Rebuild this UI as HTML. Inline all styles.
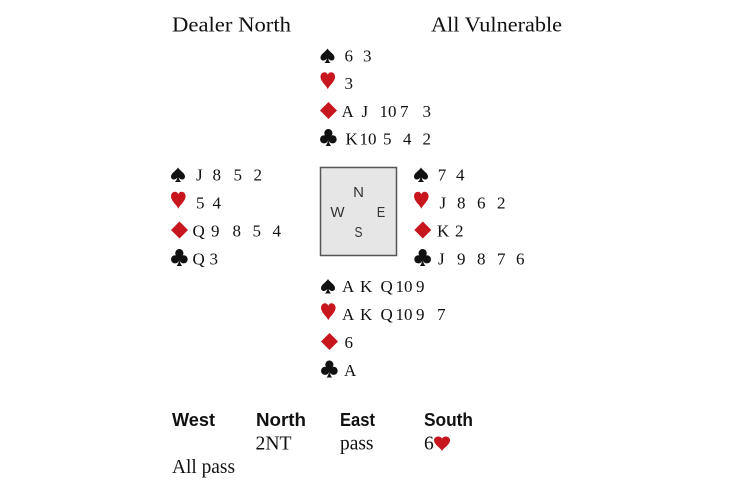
<!DOCTYPE html>
<html>
<head>
<meta charset="utf-8">
<style>
  html, body { margin:0; padding:0; background:#ffffff; }
  body { width:730px; height:486px; overflow:hidden; }
  svg { display:block; }
  .s { font-family:"Liberation Serif", "Times New Roman", serif; font-size:17px; fill:#111; }
  .h { font-family:"Liberation Serif", "Times New Roman", serif; font-size:21px; fill:#111; }
  .b { font-family:"Liberation Sans", Arial, sans-serif; font-size:18.5px; font-weight:bold; fill:#111; }
  .a { font-family:"Liberation Serif", "Times New Roman", serif; font-size:19.5px; fill:#111; }
  .c { font-family:"Liberation Sans", Arial, sans-serif; font-size:15px; fill:#333; text-anchor:middle; }
  .blk { fill:#111; }
  .red { fill:#c8161e; }
</style>
</head>
<body>
<svg width="730" height="486" viewBox="0 0 730 486" xmlns="http://www.w3.org/2000/svg">
  <rect x="0" y="0" width="730" height="486" fill="#ffffff"/>

  <!-- Headings -->
  <text class="h" x="172" y="31.5" textLength="119" lengthAdjust="spacingAndGlyphs">Dealer North</text>
  <text class="h" x="431" y="31.5" textLength="131" lengthAdjust="spacingAndGlyphs">All Vulnerable</text>

  <!-- ============ NORTH ============ -->
  <path class="blk" transform="translate(320.5,48.5)" d="M7,0 C8.5,3 14,5.5 14,9 C14,11 12.6,12 11.2,12 C9.8,12 8.6,11.2 7.8,10 C7.9,12 8.8,13.5 10.2,14.5 L3.8,14.5 C5.2,13.5 6.1,12 6.2,10 C5.4,11.2 4.2,12 2.8,12 C1.4,12 0,11 0,9 C0,5.5 5.5,3 7,0 Z"/>
  <text class="s" x="344.5" y="61.5">6</text>
  <text class="s" x="363" y="61.5">3</text>
  <path class="red" transform="translate(320.5,72.2)" d="M7.3,17 C6,13.5 0,9.5 0,4.6 C0,1.8 1.9,0 4,0 C5.6,0 6.8,1 7.3,2.6 C7.8,1 9,0 10.6,0 C12.7,0 14.6,1.8 14.6,4.6 C14.6,9.5 8.6,13.5 7.3,17 Z"/>
  <text class="s" x="344.5" y="89">3</text>
  <path class="red" transform="translate(320,102)" d="M8.5,0 L17,8.5 L8.5,17 L0,8.5 Z"/>
  <text class="s" x="341.5" y="117">A</text>
  <text class="s" x="361.5" y="117">J</text>
  <text class="s" x="379.5" y="117">10</text>
  <text class="s" x="400" y="117">7</text>
  <text class="s" x="422.5" y="117">3</text>
  <g class="blk" transform="translate(320,129)">
    <circle cx="8.35" cy="4.1" r="4.1"/>
    <circle cx="4.1" cy="10.3" r="4.1"/>
    <circle cx="12.6" cy="10.3" r="4.1"/>
    <circle cx="8.35" cy="8.8" r="2.6"/>
    <path d="M8.35,8.5 C8.2,12.5 7.2,15 5.6,17 L11.1,17 C9.5,15 8.5,12.5 8.35,8.5 Z"/>
  </g>
  <text class="s" x="345.5" y="144.5">K</text>
  <text class="s" x="359.5" y="144.5">10</text>
  <text class="s" x="383" y="144.5">5</text>
  <text class="s" x="403" y="144.5">4</text>
  <text class="s" x="422.5" y="144.5">2</text>

  <!-- ============ WEST ============ -->
  <path class="blk" transform="translate(171,167.5)" d="M7,0 C8.5,3 14,5.5 14,9 C14,11 12.6,12 11.2,12 C9.8,12 8.6,11.2 7.8,10 C7.9,12 8.8,13.5 10.2,14.5 L3.8,14.5 C5.2,13.5 6.1,12 6.2,10 C5.4,11.2 4.2,12 2.8,12 C1.4,12 0,11 0,9 C0,5.5 5.5,3 7,0 Z"/>
  <text class="s" x="196" y="180.5">J</text>
  <text class="s" x="212.5" y="180.5">8</text>
  <text class="s" x="233.5" y="180.5">5</text>
  <text class="s" x="253.5" y="180.5">2</text>

  <path class="red" transform="translate(171,191.7)" d="M7.3,17 C6,13.5 0,9.5 0,4.6 C0,1.8 1.9,0 4,0 C5.6,0 6.8,1 7.3,2.6 C7.8,1 9,0 10.6,0 C12.7,0 14.6,1.8 14.6,4.6 C14.6,9.5 8.6,13.5 7.3,17 Z"/>
  <text class="s" x="196" y="208.5">5</text>
  <text class="s" x="212.5" y="208.5">4</text>

  <path class="red" transform="translate(171,221.5)" d="M8.5,0 L17,8.5 L8.5,17 L0,8.5 Z"/>
  <text class="s" x="192.5" y="236.5">Q</text>
  <text class="s" x="211" y="236.5">9</text>
  <text class="s" x="232.5" y="236.5">8</text>
  <text class="s" x="252.5" y="236.5">5</text>
  <text class="s" x="272.5" y="236.5">4</text>

  <g class="blk" transform="translate(171,249)">
    <circle cx="8.35" cy="4.1" r="4.1"/>
    <circle cx="4.1" cy="10.3" r="4.1"/>
    <circle cx="12.6" cy="10.3" r="4.1"/>
    <circle cx="8.35" cy="8.8" r="2.6"/>
    <path d="M8.35,8.5 C8.2,12.5 7.2,15 5.6,17 L11.1,17 C9.5,15 8.5,12.5 8.35,8.5 Z"/>
  </g>
  <text class="s" x="192.5" y="264.5">Q</text>
  <text class="s" x="209.5" y="264.5">3</text>

  <!-- ============ COMPASS BOX ============ -->
  <rect x="320.5" y="167.5" width="76" height="88" fill="#e6e6e6" stroke="#555555" stroke-width="1.5"/>
  <text class="c" x="358.5" y="197">N</text>
  <text class="c" x="337.5" y="217">W</text>
  <text class="c" x="381" y="217" textLength="8.5" lengthAdjust="spacingAndGlyphs">E</text>
  <text class="c" x="358.5" y="237" textLength="8" lengthAdjust="spacingAndGlyphs">S</text>

  <!-- ============ EAST ============ -->
  <path class="blk" transform="translate(414,167.5)" d="M7,0 C8.5,3 14,5.5 14,9 C14,11 12.6,12 11.2,12 C9.8,12 8.6,11.2 7.8,10 C7.9,12 8.8,13.5 10.2,14.5 L3.8,14.5 C5.2,13.5 6.1,12 6.2,10 C5.4,11.2 4.2,12 2.8,12 C1.4,12 0,11 0,9 C0,5.5 5.5,3 7,0 Z"/>
  <text class="s" x="437.7" y="180.5">7</text>
  <text class="s" x="456" y="180.5">4</text>

  <path class="red" transform="translate(414,191.7)" d="M7.3,17 C6,13.5 0,9.5 0,4.6 C0,1.8 1.9,0 4,0 C5.6,0 6.8,1 7.3,2.6 C7.8,1 9,0 10.6,0 C12.7,0 14.6,1.8 14.6,4.6 C14.6,9.5 8.6,13.5 7.3,17 Z"/>
  <text class="s" x="439.5" y="208.5">J</text>
  <text class="s" x="457" y="208.5">8</text>
  <text class="s" x="477" y="208.5">6</text>
  <text class="s" x="497" y="208.5">2</text>

  <path class="red" transform="translate(414.3,221.5)" d="M8.5,0 L17,8.5 L8.5,17 L0,8.5 Z"/>
  <text class="s" x="437" y="236.5">K</text>
  <text class="s" x="455" y="236.5">2</text>

  <g class="blk" transform="translate(414.3,249)">
    <circle cx="8.35" cy="4.1" r="4.1"/>
    <circle cx="4.1" cy="10.3" r="4.1"/>
    <circle cx="12.6" cy="10.3" r="4.1"/>
    <circle cx="8.35" cy="8.8" r="2.6"/>
    <path d="M8.35,8.5 C8.2,12.5 7.2,15 5.6,17 L11.1,17 C9.5,15 8.5,12.5 8.35,8.5 Z"/>
  </g>
  <text class="s" x="438" y="264.5">J</text>
  <text class="s" x="457" y="264.5">9</text>
  <text class="s" x="477" y="264.5">8</text>
  <text class="s" x="497" y="264.5">7</text>
  <text class="s" x="516" y="264.5">6</text>

  <!-- ============ SOUTH ============ -->
  <path class="blk" transform="translate(321,279)" d="M7,0 C8.5,3 14,5.5 14,9 C14,11 12.6,12 11.2,12 C9.8,12 8.6,11.2 7.8,10 C7.9,12 8.8,13.5 10.2,14.5 L3.8,14.5 C5.2,13.5 6.1,12 6.2,10 C5.4,11.2 4.2,12 2.8,12 C1.4,12 0,11 0,9 C0,5.5 5.5,3 7,0 Z"/>
  <text class="s" x="342" y="292">A</text>
  <text class="s" x="360" y="292">K</text>
  <text class="s" x="380.5" y="292">Q</text>
  <text class="s" x="395.5" y="292">10</text>
  <text class="s" x="416" y="292">9</text>

  <path class="red" transform="translate(321,303.2)" d="M7.3,17 C6,13.5 0,9.5 0,4.6 C0,1.8 1.9,0 4,0 C5.6,0 6.8,1 7.3,2.6 C7.8,1 9,0 10.6,0 C12.7,0 14.6,1.8 14.6,4.6 C14.6,9.5 8.6,13.5 7.3,17 Z"/>
  <text class="s" x="342" y="320">A</text>
  <text class="s" x="360" y="320">K</text>
  <text class="s" x="380.5" y="320">Q</text>
  <text class="s" x="395.5" y="320">10</text>
  <text class="s" x="416" y="320">9</text>
  <text class="s" x="437" y="320">7</text>

  <path class="red" transform="translate(321,333)" d="M8.5,0 L17,8.5 L8.5,17 L0,8.5 Z"/>
  <text class="s" x="344.5" y="348">6</text>

  <g class="blk" transform="translate(321,360.5)">
    <circle cx="8.35" cy="4.1" r="4.1"/>
    <circle cx="4.1" cy="10.3" r="4.1"/>
    <circle cx="12.6" cy="10.3" r="4.1"/>
    <circle cx="8.35" cy="8.8" r="2.6"/>
    <path d="M8.35,8.5 C8.2,12.5 7.2,15 5.6,17 L11.1,17 C9.5,15 8.5,12.5 8.35,8.5 Z"/>
  </g>
  <text class="s" x="344" y="376">A</text>

  <!-- ============ AUCTION ============ -->
  <text class="b" x="172" y="426" textLength="43" lengthAdjust="spacingAndGlyphs">West</text>
  <text class="b" x="256" y="426" textLength="50" lengthAdjust="spacingAndGlyphs">North</text>
  <text class="b" x="340" y="426" textLength="35" lengthAdjust="spacingAndGlyphs">East</text>
  <text class="b" x="424" y="426" textLength="49" lengthAdjust="spacingAndGlyphs">South</text>

  <text class="a" x="255.5" y="449.3" textLength="36" lengthAdjust="spacingAndGlyphs">2NT</text>
  <text class="a" x="340" y="449.3" textLength="33.5" lengthAdjust="spacingAndGlyphs">pass</text>
  <text class="a" x="424" y="449.3">6</text>
  <path class="red" transform="translate(434,436.5) scale(1.1,0.85)" d="M7.3,17 C6,13.5 0,9.5 0,4.6 C0,1.8 1.9,0 4,0 C5.6,0 6.8,1 7.3,2.6 C7.8,1 9,0 10.6,0 C12.7,0 14.6,1.8 14.6,4.6 C14.6,9.5 8.6,13.5 7.3,17 Z"/>

  <text class="a" x="172" y="473" textLength="63" lengthAdjust="spacingAndGlyphs">All pass</text>
</svg>
</body>
</html>
